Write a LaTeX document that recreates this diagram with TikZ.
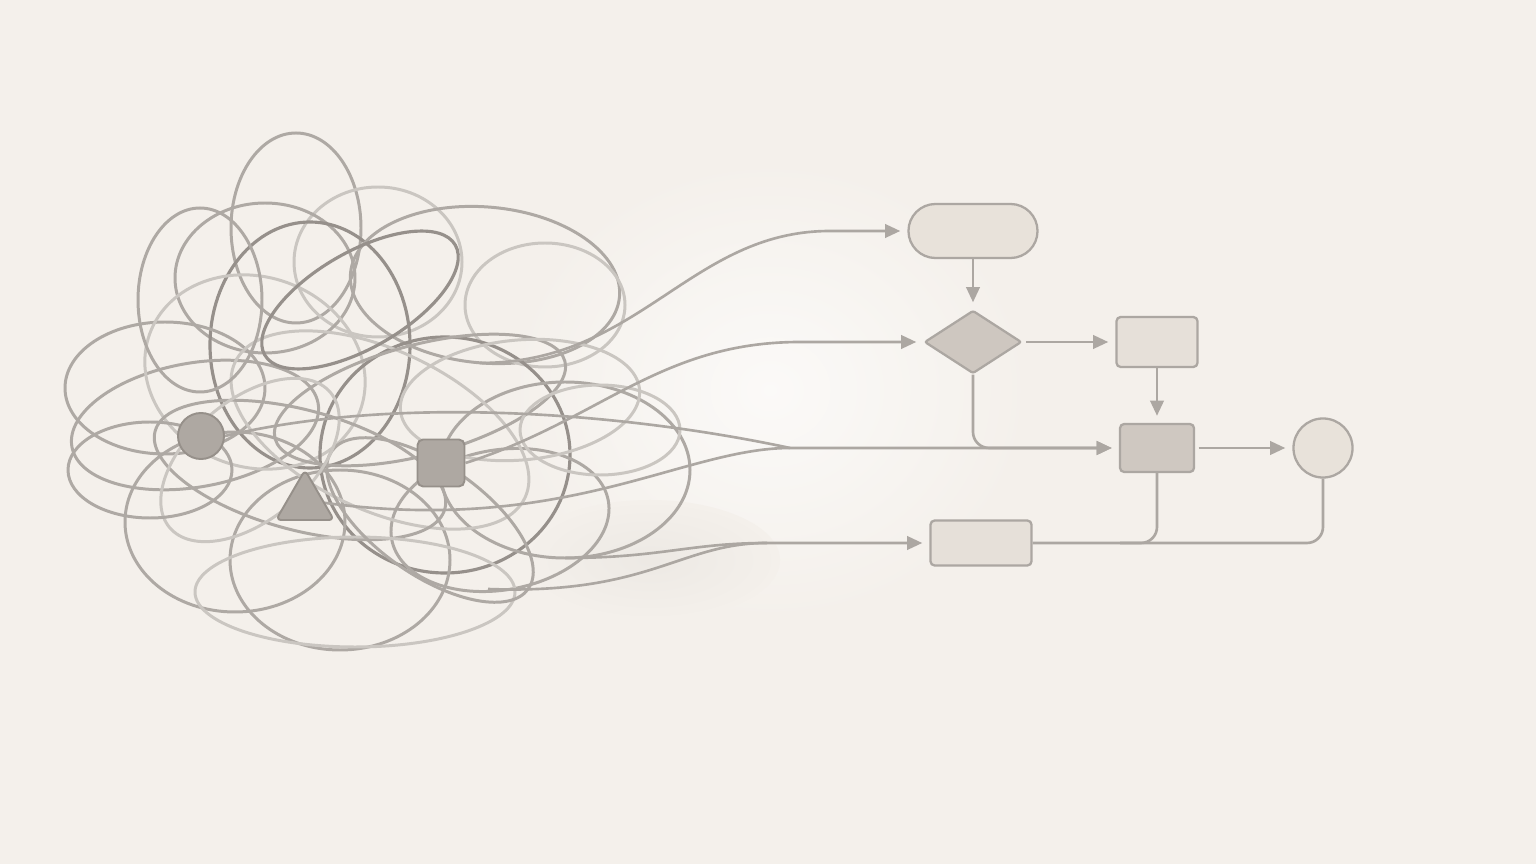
\documentclass[tikz,border=0pt]{standalone}
\usetikzlibrary{arrows.meta,shapes.geometric}
\definecolor{bg}{RGB}{244,240,235}
\definecolor{lnc}{RGB}{172,167,162}
\definecolor{tdark}{RGB}{150,144,139}
\definecolor{tmid}{RGB}{174,169,164}
\definecolor{tlight}{RGB}{202,198,193}
\definecolor{fstad}{RGB}{232,226,218}
\definecolor{fdia}{RGB}{206,199,192}
\definecolor{frect}{RGB}{230,224,217}
\definecolor{fmid}{RGB}{207,200,193}
\definecolor{shapefill}{RGB}{174,168,162}
\definecolor{shapedraw}{RGB}{150,144,138}
\begin{document}
\begin{tikzpicture}[x=0.01cm,y=-0.01cm,
  tA/.style={draw=tdark,line width=0.9pt},
  tB/.style={draw=tmid,line width=0.85pt},
  tC/.style={draw=tlight,line width=0.85pt},
  flow/.style={draw=lnc,line width=0.75pt},
  arr/.style={flow,-{Triangle[length=4.3pt,width=3.8pt]}},
  box/.style={draw=lnc,line width=0.65pt,rounded corners=1.2pt,inner sep=0pt},
  tshape/.style={draw=shapedraw,fill=shapefill,line width=0.55pt}]
\fill[bg] (0,0) rectangle (1536,864);
\useasboundingbox (0,0) rectangle (1536,864);
% glow and shadow
\shade[inner color=white!65!bg, outer color=bg] (770,390) ellipse [x radius=260, y radius=230];
\shade[inner color=bg!97!black, outer color=bg] (650,560) ellipse [x radius=130, y radius=60];
% tangle loops
\draw[tB] (296,228) ellipse [x radius=65, y radius=95];
\draw[tC] (378,262) ellipse [x radius=84, y radius=75];
\draw[tB] (265,278) ellipse [x radius=90, y radius=75];
\draw[tA] (310,345) ellipse [x radius=100, y radius=123];
\draw[tB, rotate around={-5:(485,285)}] (485,285) ellipse [x radius=135, y radius=78];
\draw[tC] (545,305) ellipse [x radius=80, y radius=62];
\draw[tB] (165,388) ellipse [x radius=100, y radius=66];
\draw[tB, rotate around={10:(195,425)}] (195,425) ellipse [x radius=125, y radius=62];
\draw[tC, rotate around={-20:(255,372)}] (255,372) ellipse [x radius=112, y radius=95];
\draw[tA] (445,455) ellipse [x radius=125, y radius=118];
\draw[tB] (235,522) ellipse [x radius=110, y radius=90];
\draw[tB] (340,560) ellipse [x radius=110, y radius=90];
\draw[tB] (565,470) ellipse [x radius=125, y radius=88];
\draw[tB, rotate around={10:(500,520)}] (500,520) ellipse [x radius=110, y radius=70];
\draw[tC, rotate around={-25:(380,430)}] (380,430) ellipse [x radius=160, y radius=80];
\draw[tB] (200,300) ellipse [x radius=62, y radius=92];
\draw[tB, rotate around={15:(420,400)}] (420,400) ellipse [x radius=150, y radius=55];
\draw[tB, rotate around={-15:(300,470)}] (300,470) ellipse [x radius=150, y radius=60];
\draw[tC] (355,592) ellipse [x radius=160, y radius=55];
\draw[tC, rotate around={5:(520,400)}] (520,400) ellipse [x radius=120, y radius=60];
\draw[tA, rotate around={30:(360,300)}] (360,300) ellipse [x radius=110, y radius=48];
\draw[tB, rotate around={-35:(430,520)}] (430,520) ellipse [x radius=120, y radius=55];
\draw[tC, rotate around={40:(250,460)}] (250,460) ellipse [x radius=105, y radius=60];
\draw[tB] (150,470) ellipse [x radius=82, y radius=48];
\draw[tC] (600,430) ellipse [x radius=80, y radius=45];
% start points of the flowing lines
\coordinate (s1) at (480,363);
\coordinate (s3b) at (305,500);
\coordinate (s4a) at (565,558);
\coordinate (s4b) at (488,589);
% shapes inside tangle
\node[tshape, circle, minimum size=0.46cm, inner sep=0pt] (tcirc) at (201,436) {};
\node[tshape, rectangle, rounded corners=1.6pt, minimum size=0.47cm, inner sep=0pt] (tsq) at (441,463) {};
% flowchart nodes
\node[box, fill=fstad, rounded corners=0.27cm, minimum width=1.29cm, minimum height=0.54cm] (stad) at (973,231) {};
\node[box, fill=fdia, diamond, rounded corners=0.6pt, minimum width=0.97cm, minimum height=0.63cm, aspect=1.54] (dia) at (973,342) {};
\node[box, fill=frect, minimum width=0.81cm, minimum height=0.50cm] (r1) at (1157,342) {};
\node[box, fill=fmid, minimum width=0.74cm, minimum height=0.48cm] (r2) at (1157,448) {};
\node[box, fill=fstad, circle, minimum size=0.59cm] (endc) at (1323,448) {};
\node[box, fill=frect, minimum width=1.01cm, minimum height=0.45cm] (r3) at (981,543) {};
% flow lines into the chart
\draw[arr, shorten >=2pt] (s1) .. controls (640,363) and (690,231) .. (830,231) -- (stad.west);
\draw[arr, shorten >=2pt] (tsq.east) .. controls (600,420) and (660,342) .. (800,342) -- (dia.west);
\draw[flow] (tcirc.east) .. controls (420,390) and (660,420) .. (790,448);
\draw[arr, shorten >=2pt] (s3b) .. controls (560,540) and (680,448) .. (790,448) -- (r2.west);
\draw[flow] (s4a) .. controls (660,558) and (690,543) .. (767,543);
\draw[arr, shorten >=2pt] (s4b) .. controls (650,595) and (680,543) .. (767,543) -- (r3.west);
\filldraw[tshape, rounded corners=1.5pt] (305,470) -- (334,520) -- (276,520) -- cycle;
% flowchart connectors
\draw[arr, shorten >=2pt] (stad.south) -- (dia.north);
\draw[arr, shorten >=2pt, shorten <=1pt] (dia.east) -- (r1.west);
\draw[arr, shorten >=2pt] (r1.south) -- (r2.north);
\draw[arr, shorten >=2pt, shorten <=1pt] (r2.east) -- (endc.west);
\draw[arr, shorten >=2pt, rounded corners=0.16cm] (dia.south) |- (r2.west);
\draw[flow, rounded corners=0.16cm] (r3.east) -| (endc.south);
\draw[flow, rounded corners=0.16cm] (r2.south) |- (1120,543);
\end{tikzpicture}
\end{document}
